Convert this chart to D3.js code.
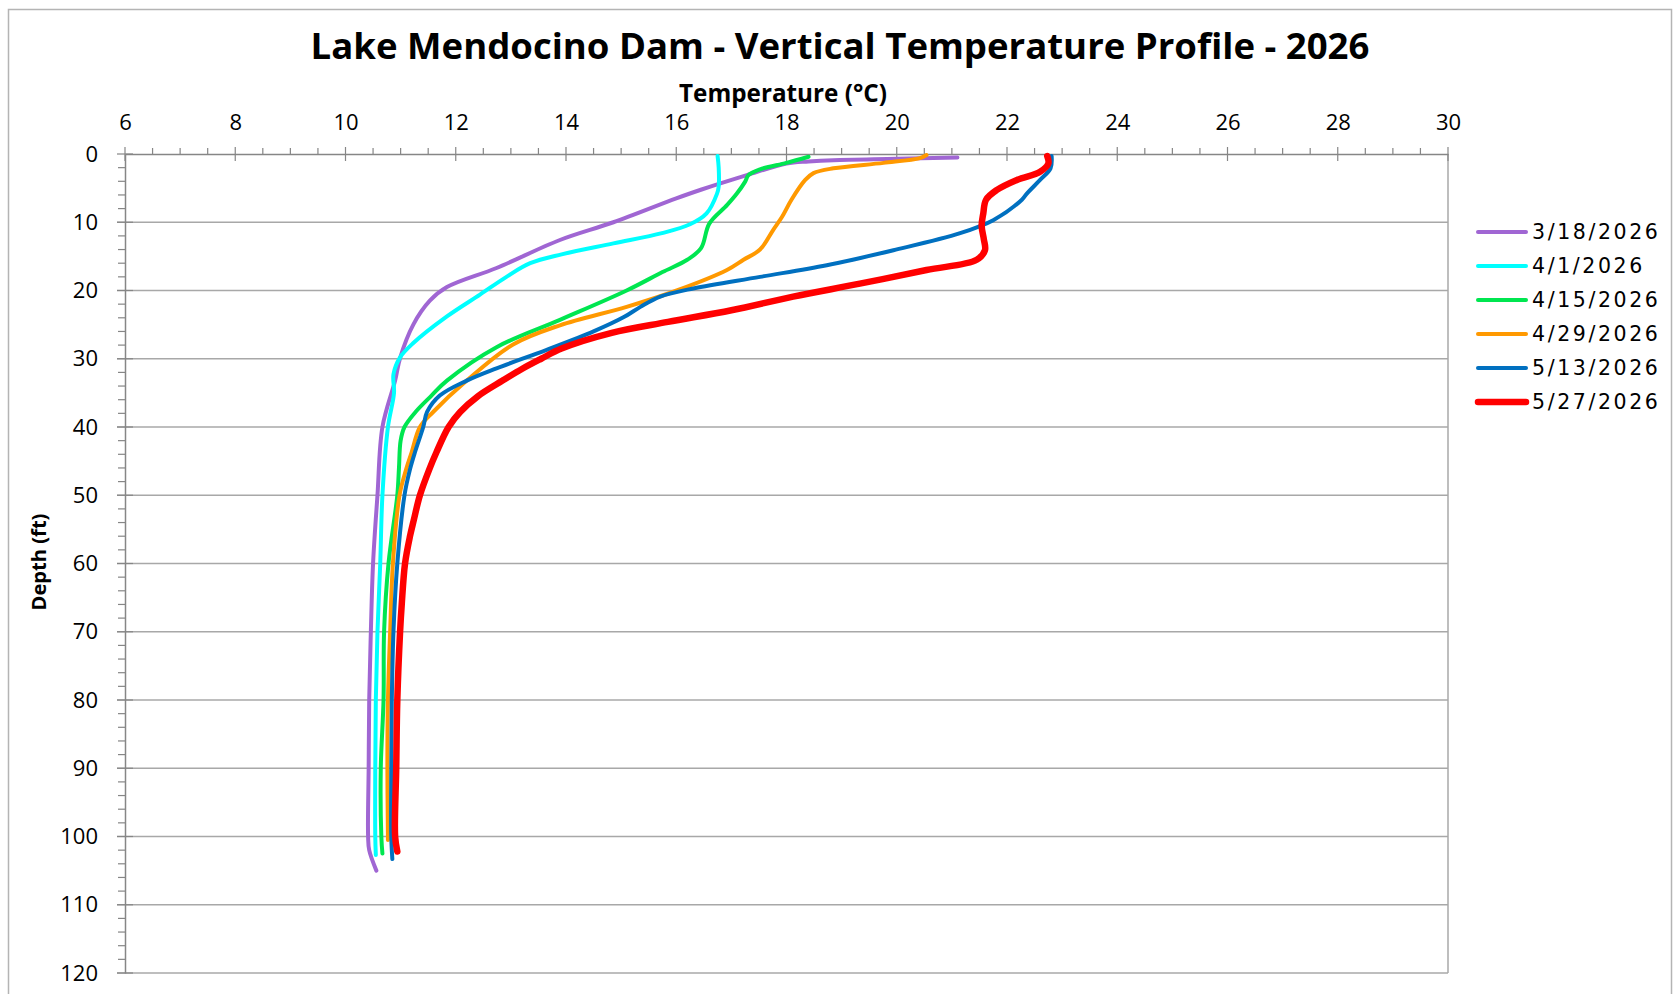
<!DOCTYPE html>
<html>
<head>
<meta charset="utf-8">
<script src="https://cdn.jsdelivr.net/npm/d3@7"></script>
<style>
  body { margin: 0; background: #fff; }
  svg { display: block; }
</style>
</head>
<body>
<script>
// series values: depth (ft) and temperature (C)
const seriesNames = ["3/18/2026", "4/1/2026", "4/15/2026", "4/29/2026", "5/13/2026", "5/27/2026"];
const seriesColors = ["#a066d3", "#00ffff", "#00e650", "#ff9900", "#0070c0", "#ff0000"];

const depth0318 = [0.5, 0.7, 0.9, 1.1, 1.4, 3.1, 4.3, 5.2, 6.5, 10, 12.6, 16.7, 19.5, 21.5, 25, 29.9, 33.2, 40, 50, 60, 70, 80, 90, 100, 102, 105];
const temp0318  = [21.1, 20.0, 18.85, 18.4, 18.0, 17.28, 16.8, 16.46, 16.0, 14.86, 13.89, 12.74, 11.84, 11.53, 11.23, 10.99, 10.9, 10.67, 10.58, 10.5, 10.46, 10.43, 10.42, 10.41, 10.43, 10.56];

const depth0401 = [0.3, 2, 4.8, 5.8, 8.7, 10.3, 11.6, 13.1, 14.7, 16, 18, 20.6, 23.8, 27.7, 29.8, 32.3, 35, 40, 50, 60, 70, 80, 90, 100, 102.7];
const temp0401  = [16.75, 16.77, 16.77, 16.74, 16.55, 16.25, 15.74, 14.86, 13.92, 13.35, 12.92, 12.44, 11.84, 11.23, 10.99, 10.87, 10.88, 10.77, 10.67, 10.63, 10.58, 10.55, 10.54, 10.54, 10.55];

const depth0415 = [0.4, 1.3, 2.25, 3.1, 4.05, 5.8, 7.5, 10.2, 13.8, 15.5, 17.3, 20, 24.3, 28.3, 33.2, 35.4, 37.8, 40, 42, 46, 50, 60, 70, 80, 90, 100, 102.5];
const temp0415  = [18.4, 18.0, 17.52, 17.31, 17.25, 17.1, 16.92, 16.6, 16.45, 16.2, 15.75, 15.1, 13.89, 12.74, 11.84, 11.56, 11.27, 11.07, 11.0, 10.97, 10.94, 10.78, 10.7, 10.69, 10.64, 10.65, 10.67];

const depth0429 = [0.15, 0.6, 1.3, 2.1, 2.8, 3.8, 6.7, 9.2, 11.1, 14.0, 15.5, 17.0, 20.0, 22.4, 25.1, 27.9, 33.2, 37.8, 40, 43.7, 46.2, 50, 60, 70, 80, 90, 100, 100.5];
const temp0429  = [20.54, 20.42, 19.76, 18.85, 18.49, 18.34, 18.09, 17.92, 17.76, 17.52, 17.22, 16.92, 16.01, 15.1, 13.89, 13.04, 12.2, 11.59, 11.35, 11.2, 11.1, 10.98, 10.86, 10.81, 10.77, 10.76, 10.77, 10.77];

const depth0513 = [0.3, 2.1, 3.8, 5.8, 6.7, 9.7, 11.6, 14.1, 16.3, 18.0, 19.7, 20.9, 22.4, 23.9, 26.0, 28.7, 31.4, 33.2, 35.4, 37.8, 40, 43.7, 46.2, 50, 60, 70, 80, 90, 100, 103.3];
const temp0513  = [22.81, 22.79, 22.6, 22.36, 22.27, 21.75, 21.15, 19.94, 18.73, 17.52, 16.31, 15.71, 15.35, 15.05, 14.5, 13.65, 12.74, 12.2, 11.71, 11.48, 11.41, 11.26, 11.17, 11.07, 10.94, 10.87, 10.84, 10.83, 10.83, 10.85];

const depth0527 = [0.3, 1.4, 2.6, 3.8, 5.3, 6.7, 8.7, 10.5, 12.5, 14.1, 15.5, 17.0, 19.0, 20.9, 22.9, 24.6, 26.2, 28.5, 30, 31.5, 33.2, 35.5, 37.8, 40, 43.7, 46.2, 50, 53.6, 56, 60, 66, 70, 80, 90, 100, 102.2];
const temp0527  = [22.73, 22.75, 22.6, 22.18, 21.81, 21.62, 21.57, 21.54, 21.58, 21.6, 21.45, 20.54, 19.33, 18.12, 17.0, 15.85, 14.83, 13.92, 13.55, 13.2, 12.85, 12.4, 12.08, 11.87, 11.65, 11.52, 11.35, 11.24, 11.17, 11.08, 11.02, 10.99, 10.94, 10.92, 10.9, 10.94];

const seriesDepths = [depth0318, depth0401, depth0415, depth0429, depth0513, depth0527];
const seriesTemps = [temp0318, temp0401, temp0415, temp0429, temp0513, temp0527];
const seriesWidths = [4, 4, 4, 4, 4, 6.5];

const xTicks = [6, 8, 10, 12, 14, 16, 18, 20, 22, 24, 26, 28, 30];
const yTicks = [0, 10, 20, 30, 40, 50, 60, 70, 80, 90, 100, 110, 120];

const W = 1676, H = 994;
const pLeft = 125, pRight = 1448, pTop = 154, pBottom = 973;

const svg = d3.select("body").append("svg")
    .attr("width", W)
    .attr("height", H);

svg.append("rect")
    .attr("x", 8.5).attr("y", 9.5)
    .attr("width", 1663).attr("height", 1010)
    .attr("fill", "#fff")
    .attr("stroke", "#b4b4b4")
    .attr("stroke-width", 1.5);

const x = d3.scaleLinear().domain([6, 30]).range([pLeft, pRight]);
const y = d3.scaleLinear().domain([0, 120]).range([pTop, pBottom]);

function fit(t, w) {
    const cur = t.node().getComputedTextLength();
    const fs = parseFloat(t.attr("font-size"));
    t.attr("font-size", fs * w / cur);
}

// gridlines
svg.append("g")
    .selectAll("line")
    .data(yTicks.slice(1))
    .join("line")
    .attr("x1", pLeft - 8).attr("x2", pRight)
    .attr("y1", d => y(d)).attr("y2", d => y(d))
    .attr("stroke", "#a8a8a8")
    .attr("stroke-width", 1.5);

// right border
svg.append("line")
    .attr("x1", pRight).attr("x2", pRight)
    .attr("y1", pTop).attr("y2", pBottom)
    .attr("stroke", "#a8a8a8").attr("stroke-width", 1.5);

// top axis
const xAxis = d3.axisTop(x).tickValues(xTicks).tickSize(0).tickPadding(24);
const gx = svg.append("g")
    .attr("transform", "translate(0," + pTop + ")")
    .call(xAxis);
gx.select(".domain").attr("stroke", "#868686").attr("stroke-width", 1.5);
gx.selectAll("text")
    .attr("font-family", "Open Sans")
    .attr("font-size", 22)
    .attr("fill", "#000");

const minorX = d3.range(6.5, 30, 0.5).filter(d => d % 2 !== 0);
svg.append("g").selectAll("line").data(minorX).join("line")
    .attr("x1", d => x(d)).attr("x2", d => x(d))
    .attr("y1", pTop - 6).attr("y2", pTop)
    .attr("stroke", "#868686").attr("stroke-width", 1.2);
svg.append("g").selectAll("line").data(xTicks).join("line")
    .attr("x1", d => x(d)).attr("x2", d => x(d))
    .attr("y1", pTop - 7).attr("y2", pTop + 7)
    .attr("stroke", "#868686").attr("stroke-width", 1.2);

// left axis
const yAxis = d3.axisLeft(y).tickValues(yTicks).tickSize(0).tickPadding(27);
const gy = svg.append("g")
    .attr("transform", "translate(" + pLeft + ",0)")
    .call(yAxis);
gy.select(".domain").attr("stroke", "#868686").attr("stroke-width", 1.5);
gy.selectAll("text")
    .attr("font-family", "Open Sans")
    .attr("font-size", 22)
    .attr("fill", "#000");

const minorY = d3.range(2, 120, 2).filter(d => d % 10 !== 0);
svg.append("g").selectAll("line").data(minorY).join("line")
    .attr("x1", pLeft - 7).attr("x2", pLeft)
    .attr("y1", d => y(d)).attr("y2", d => y(d))
    .attr("stroke", "#868686").attr("stroke-width", 1.2);
svg.append("g").selectAll("line").data(yTicks).join("line")
    .attr("x1", pLeft - 8).attr("x2", pLeft + 8)
    .attr("y1", d => y(d)).attr("y2", d => y(d))
    .attr("stroke", "#868686").attr("stroke-width", 1.2);

// lines
const line = d3.line()
    .x(d => x(d[1]))
    .y(d => y(d[0]))
    .curve(d3.curveCatmullRom.alpha(0.5));

seriesNames.forEach((name, i) => {
    const pts = seriesDepths[i].map((dep, j) => [dep, seriesTemps[i][j]]);
    svg.append("path")
        .datum(pts)
        .attr("d", line)
        .attr("fill", "none")
        .attr("stroke", seriesColors[i])
        .attr("stroke-width", seriesWidths[i])
        .attr("stroke-linecap", "round")
        .attr("stroke-linejoin", "round");
});

// titles
const title = svg.append("text")
    .attr("x", 840).attr("y", 59)
    .attr("text-anchor", "middle")
    .attr("font-family", "Open Sans")
    .attr("font-weight", "bold")
    .attr("font-size", 32)
    .text("Lake Mendocino Dam - Vertical Temperature Profile - 2026");
fit(title, 1059);

const xTitle = svg.append("text")
    .attr("x", 783).attr("y", 102)
    .attr("text-anchor", "middle")
    .attr("font-family", "Open Sans")
    .attr("font-weight", "bold")
    .attr("font-size", 19)
    .text("Temperature (°C)");
fit(xTitle, 208);

const yTitle = svg.append("text")
    .attr("transform", "translate(46,562) rotate(-90)")
    .attr("text-anchor", "middle")
    .attr("font-family", "Open Sans")
    .attr("font-weight", "bold")
    .attr("font-size", 19)
    .text("Depth (ft)");
fit(yTitle, 97);

// legend
const legendY = [232, 266, 300, 334, 368, 402];
const lg = svg.append("g");
seriesNames.forEach((name, i) => {
    lg.append("line")
        .attr("x1", 1478).attr("x2", 1526)
        .attr("y1", legendY[i]).attr("y2", legendY[i])
        .attr("stroke", seriesColors[i])
        .attr("stroke-width", seriesWidths[i])
        .attr("stroke-linecap", "round");
    lg.append("text")
        .attr("x", 1532).attr("y", legendY[i])
        .attr("dy", "0.36em")
        .attr("font-family", "DejaVu Sans")
        .attr("font-size", 20.5)
        .attr("letter-spacing", 2.6)
        .text(name);
});
</script>
</body>
</html>
